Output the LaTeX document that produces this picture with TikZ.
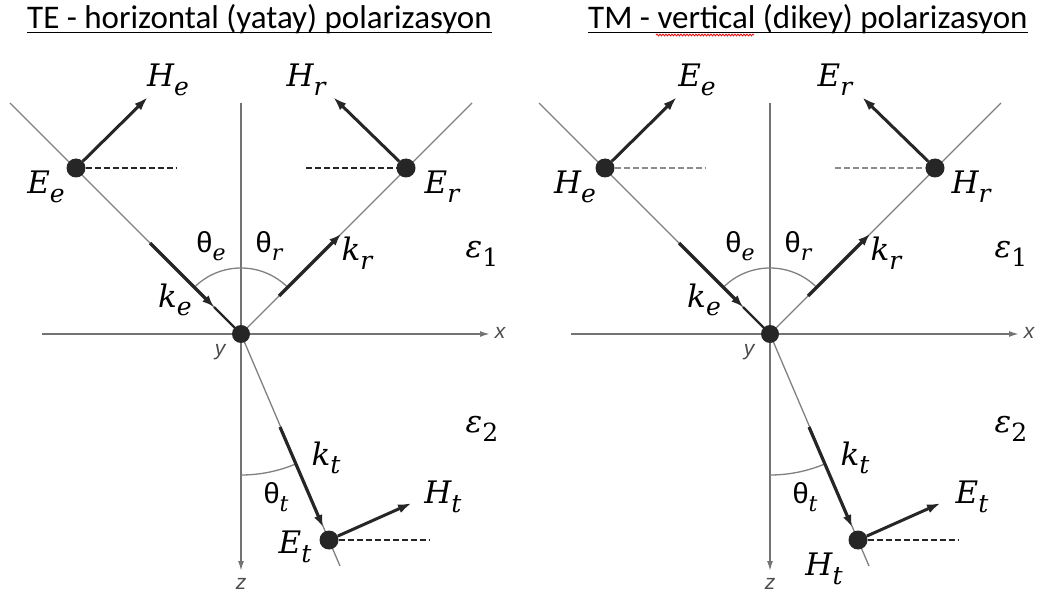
\documentclass[tikz,border=0pt]{standalone}
\usepackage{fontspec}
\setmainfont{Carlito}
\newfontfamily\grfont{Liberation Sans}
\newfontfamily\mfont{DejaVu Serif}
\newcommand{\ml}[2]{{\itshape #1}\raisebox{-0.28em}{\fontsize{25}{28}\selectfont\itshape #2}}
\newcommand{\thl}[1]{{\grfont θ}\raisebox{-0.28em}{\mfont\itshape\fontsize{22}{26}\selectfont #1}}
\usetikzlibrary{arrows.meta,decorations.pathmorphing}
\tikzset{
  axisline/.style={black!55, line width=1.6pt, -{Latex[length=10pt,width=6pt]}},
  rayline/.style={black!50, line width=1.3pt},
  kvec/.style={black!85, line width=3.2pt, -{Latex[length=12pt,width=9pt]}},
  fvec/.style={black!85, line width=3pt, -{Latex[length=14pt,width=9pt]}},
  fdot/.style={circle, fill=black!85, inner sep=0pt, minimum size=19pt},
  hdash/.style={line width=2.6pt, dash pattern=on 6pt off 3pt},
  lbl/.style={font=\mfont\fontsize{31}{36}\selectfont, inner sep=0pt},
  thlbl/.style={font=\fontsize{29}{34}\selectfont, inner sep=0pt},
  axlbl/.style={font=\grfont\itshape\fontsize{21}{24}\selectfont, text=black!70, inner sep=0pt},
  ttl/.style={font=\fontsize{33}{36}\selectfont, anchor=base west, inner sep=0pt}
}
\begin{document}
\begin{tikzpicture}[x=1pt, y=-1pt]
\useasboundingbox (0,0) rectangle (1041,596);

% Titles
\node[ttl] (tte) at (27,29) {TE - horizontal (yatay) polarizasyon};
\node[ttl] (ttm) at (588,29) {TM - vertical (dikey) polarizasyon};
\draw[line width=1.3pt] ([yshift=-3.5pt]tte.base west) -- ([yshift=-3.5pt]tte.base east);
\draw[line width=1.3pt] ([yshift=-3.5pt]ttm.base west) -- ([yshift=-3.5pt]ttm.base east);
\coordinate (sqa) at (656,35);
\coordinate (sqb) at (754,35);
\draw[red, line width=0.8pt, decorate, decoration={snake, amplitude=0.9pt, segment length=3pt}] (sqa) -- (sqb);

% Two panels
\foreach \i/\dx/\A/\B/\dcol/\ty in {1/0/H/E/black!85/547, 2/529/E/H/black!45/569} {
  \begin{scope}[xshift=\dx pt]
    \coordinate (O\i) at (241,334);
    \coordinate (xa\i) at (42,334);
    \coordinate (xb\i) at (490,334);
    \coordinate (za\i) at (241,103);
    \coordinate (zb\i) at (241,571);
    \coordinate (ia\i) at (10,103);
    \coordinate (ra\i) at (472,103);
    \coordinate (ta\i) at (340,566);
    \coordinate (ce\i) at (76,168);
    \coordinate (cr\i) at (406,168);
    \coordinate (ct\i) at (329,540);

    % Axes, arcs and rays
    \draw[axisline] (xa\i) -- (xb\i);
    \draw[axisline] (za\i) -- (zb\i);
    \draw[rayline] (O\i) ++(-135:66) arc[start angle=-135, end angle=-45, radius=66];
    \draw[rayline] (O\i) ++(90:141) arc[start angle=90, end angle=67, radius=141];
    \draw[rayline] (ia\i) -- (O\i) -- (ra\i);
    \draw[rayline] (O\i) -- (ta\i);

    % Wave vectors
    \coordinate (kea\i) at (150,243);
    \coordinate (keb\i) at (214,307);
    \coordinate (kra\i) at (279,296);
    \coordinate (krb\i) at (341,234);
    \coordinate (kta\i) at (280,427);
    \coordinate (ktb\i) at (323,527);
    \draw[kvec] (kea\i) -- (keb\i);
    \draw[black!85, line width=2.4pt] (keb\i) -- (O\i);
    \draw[kvec] (kra\i) -- (krb\i);
    \draw[kvec] (kta\i) -- (ktb\i);

    % Dots
    \node[fdot] (Pe\i) at (ce\i) {};
    \node[fdot] (Pr\i) at (cr\i) {};
    \node[fdot] (Pt\i) at (ct\i) {};
    \node[fdot, minimum size=18pt] (Po\i) at (O\i) {};

    % Field vectors and dashed lines
    \coordinate (fe\i) at (148,97);
    \coordinate (fr\i) at (333,97);
    \coordinate (ft\i) at (412,503);
    \coordinate (de\i) at (176,168);
    \coordinate (dr\i) at (306,168);
    \coordinate (dt\i) at (430,540);
    \draw[fvec] (Pe\i) -- (fe\i);
    \draw[fvec] (Pr\i) -- (fr\i);
    \draw[fvec] (Pt\i) -- (ft\i);
    \draw[hdash, \dcol] (Pe\i) -- (de\i);
    \draw[hdash, \dcol] (dr\i) -- (Pr\i);
    \draw[hdash, black!85] (Pt\i) -- (dt\i);

    % Labels
    \node[lbl] (lAe\i) at (168,80) {\ml{\A}{e}};
    \node[lbl] (lAr\i) at (306,80) {\ml{\A}{r}};
    \node[lbl] (lBe\i) at (46,187) {\ml{\B}{e}};
    \node[lbl] (lBr\i) at (442,187) {\ml{\B}{r}};
    \node[lbl] (lBt\i) at (295,\ty) {\ml{\B}{t}};
    \node[lbl] (lAt\i) at (443,497) {\ml{\A}{t}};
    \node[lbl] (ke\i) at (175,300) {\ml{k}{e}};
    \node[lbl] (kr\i) at (357,253) {\ml{k}{r}};
    \node[lbl] (kt\i) at (326,458) {\ml{k}{t}};
    \node[lbl] (eps1\i) at (482,254) {\ml{ε}{\upshape 1}};
    \node[lbl] (eps2\i) at (482,429) {\ml{ε}{\upshape 2}};
    \node[thlbl] (the\i) at (211,246) {\thl{e}};
    \node[thlbl] (thr\i) at (269,246) {\thl{r}};
    \node[thlbl] (tht\i) at (276,497) {\thl{t}};
    \node[axlbl] (xl\i) at (500,333) {x};
    \node[axlbl] (yl\i) at (220,352) {y};
    \node[axlbl] (zl\i) at (241,584) {z};
  \end{scope}
}
\end{tikzpicture}
\end{document}
